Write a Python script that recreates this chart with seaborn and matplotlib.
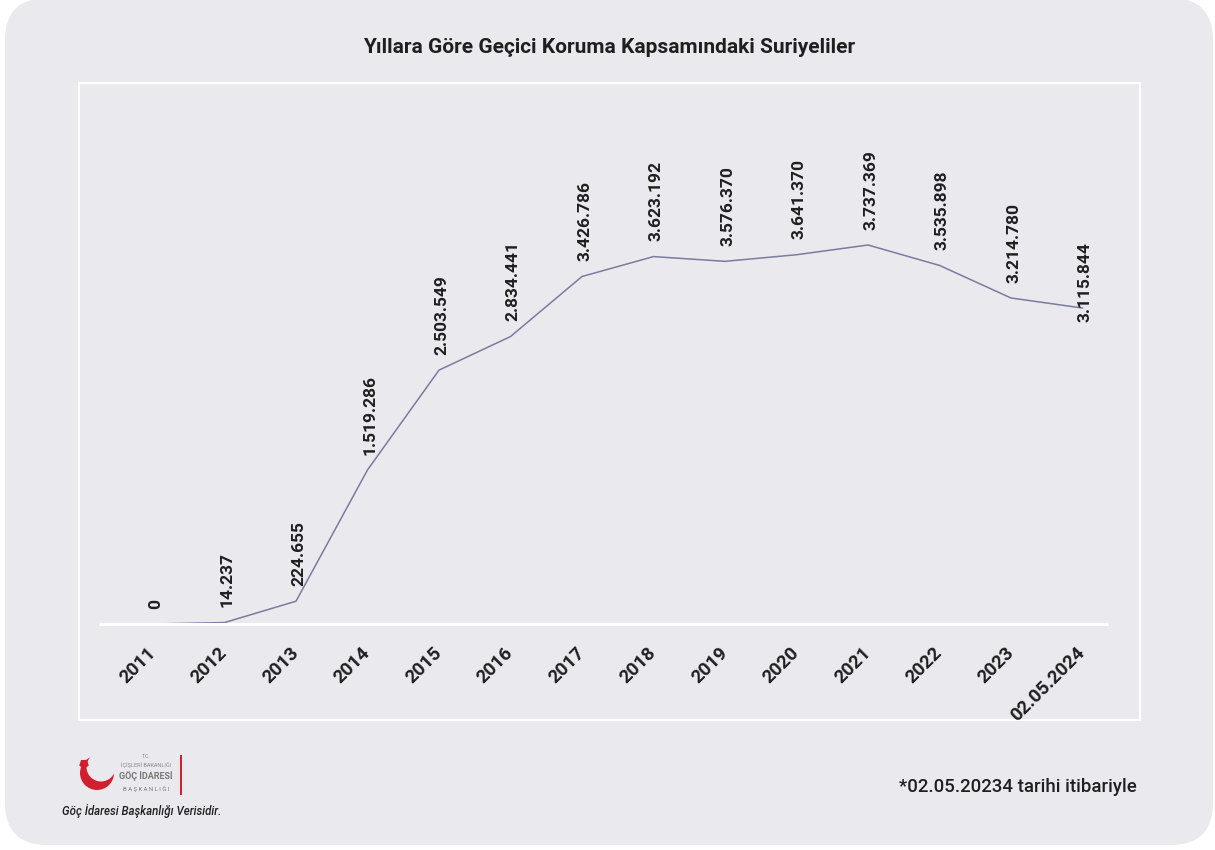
import matplotlib
matplotlib.use("Agg")
import matplotlib.pyplot as plt
import seaborn as sns
import pandas as pd
from matplotlib.patches import FancyBboxPatch, Rectangle, Circle, RegularPolygon

years = ["2011", "2012", "2013", "2014", "2015", "2016", "2017", "2018",
         "2019", "2020", "2021", "2022", "2023", "02.05.2024"]
values = [0, 14237, 224655, 1519286, 2503549, 2834441, 3426786, 3623192,
          3576370, 3641370, 3737369, 3535898, 3214780, 3115844]

title = "Yıllara Göre Geçici Koruma Kapsamındaki Suriyeliler"
footnote = "*02.05.20234 tarihi itibariyle"
source = "Göç İdaresi Başkanlığı Verisidir."

sns.set_theme(style="white")
plt.rcParams['font.family'] = ['Roboto', 'DejaVu Sans']

BG = "#eae9ee"
LINE = "#7c7a9f"
TXT = "#1f1f1f"

W, H = 1215, 850
fig = plt.figure(figsize=(W / 100, H / 100), dpi=100)
fig.patch.set_facecolor("white")

# background overlay axes in pixel coordinates
bg = fig.add_axes([0, 0, 1, 1], zorder=0)
bg.set_xlim(0, W)
bg.set_ylim(H, 0)
bg.axis("off")
bg.add_patch(FancyBboxPatch((5, -2), 1208, 847,
                            boxstyle="round,pad=0,rounding_size=42",
                            facecolor=BG, edgecolor="none"))
bg.add_patch(Rectangle((79, 83), 1061, 637, facecolor="none",
                       edgecolor="white", linewidth=1.5))
bg.text(609, 47, title, ha="center", va="center", fontsize=15,
        fontweight="bold", color=TXT)
bg.text(1137, 787, footnote, ha="right", va="center", fontsize=13.4,
        fontweight="medium", color=TXT)
bg.text(62, 811, source, ha="left", va="center", fontsize=8.3,
        fontstyle="italic", fontweight="medium", color=TXT)

# logo approximation
RED = "#d0202e"
bg.add_patch(Circle((97, 773), 17, facecolor=RED, edgecolor="none"))
bg.add_patch(Circle((101, 767), 14.5, facecolor=BG, edgecolor="none"))
bg.add_patch(RegularPolygon((84, 764), 5, radius=5, facecolor=RED,
                            edgecolor="none"))
bg.add_patch(Rectangle((180, 755), 2.2, 40, facecolor=RED, edgecolor="none"))
bg.text(146, 756, "T.C.", ha="center", va="center", fontsize=3.5, color="#888888")
bg.text(146, 765, "İÇİŞLERİ BAKANLIĞI", ha="center", va="center",
        fontsize=4, color="#888888")
bg.text(146, 776, "GÖÇ İDARESİ", ha="center", va="center", fontsize=6.5,
        fontweight="bold", color="#777777")
bg.text(146, 789, "B A Ş K A N L I Ğ I", ha="center", va="center",
        fontsize=4.2, color="#777777")

# main axes
left_px, right_px, bottom_px, top_px = 100, 1107, 624, 100
ax = fig.add_axes([left_px / W, (H - bottom_px) / H,
                   (right_px - left_px) / W, (bottom_px - top_px) / H], zorder=1)
ax.set_facecolor("none")

df = pd.DataFrame({"idx": range(len(years)), "year": years, "value": values})
sns.lineplot(data=df, x="idx", y="value", ax=ax, color=LINE, linewidth=1.1)

step = 71.5
x0 = 153
ax.set_xlim((left_px - x0) / step, (right_px - x0) / step)
px_per_unit = 379 / 3737369
ax.set_ylim(0, (bottom_px - top_px) / px_per_unit)

for s in ax.spines.values():
    s.set_visible(False)
ax.axhline(0, color="white", linewidth=2.2, clip_on=False)
ax.set_yticks([])
ax.set_xticks(df["idx"])
ax.set_xticklabels(years, rotation=45, ha="right", va="center",
                   rotation_mode="anchor", fontsize=13.5, fontweight="bold",
                   color=TXT)
ax.tick_params(axis="x", length=0, pad=19)
ax.set_xlabel("")
ax.set_ylabel("")

for i, v in enumerate(values):
    lab = f"{v:,}".replace(",", ".")
    off = 11 if i < len(values) - 1 else -10
    ax.annotate(lab, (i, v), xytext=(2, off), textcoords="offset points",
                rotation=90, ha="center", va="bottom",
                fontsize=12.5, fontweight="bold", color=TXT)

fig.savefig("out.png", dpi=100, facecolor=fig.get_facecolor())
